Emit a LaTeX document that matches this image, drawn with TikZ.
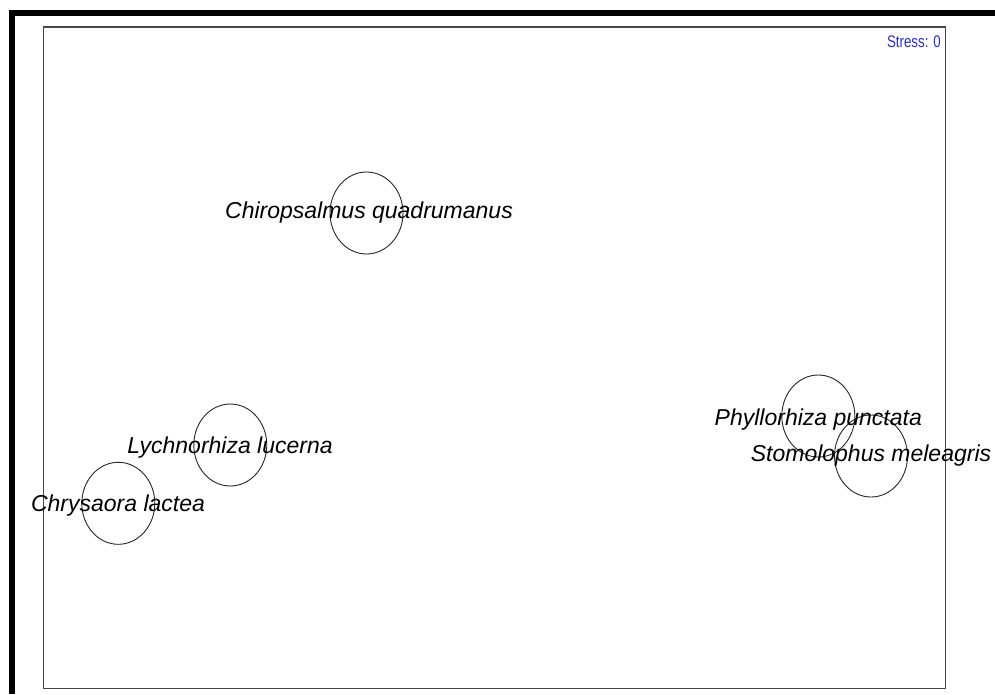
\documentclass[tikz,border=0pt]{standalone}
\usepackage{fontspec}
\setmainfont{Liberation Sans}
\usetikzlibrary{shapes.geometric}
\definecolor{stressblue}{RGB}{40,40,240}
\definecolor{framegray}{RGB}{70,70,70}
\tikzset{
  spot/.style={draw=black!85, line width=0.9pt, ellipse, minimum width=73pt, minimum height=82pt, inner sep=0pt},
  lbl/.style={anchor=base, inner sep=0pt, font=\fontsize{23}{23}\selectfont\itshape},
}
\begin{document}
\begin{tikzpicture}[x=1pt,y=-1pt]
\useasboundingbox (0,0) rectangle (995,694);
% thick outer frame
\fill[black] (9,10) rectangle (995,16);
\fill[black] (9,10) rectangle (15,694);
% inner plot rectangle
\draw[framegray, line width=1.5pt] (43.5,26.8) rectangle (945.5,688.5);
% stress label
\node[anchor=base east, inner sep=0pt, text=stressblue, font=\fontsize{14}{14}\selectfont] (stress) at (941,47.3) {\scalebox{0.95}[1.2]{Stress: 0}};
% circles
\node[spot] (c1) at (366.5,213) {};
\node[spot] (c2) at (230.3,445) {};
\node[spot] (c3) at (118.3,503.3) {};
\node[spot] (c4) at (818.3,416) {};
\node[spot] (c5) at (871,456) {};
% labels
\node[lbl] (l1) at (369,218.3) {Chiropsalmus quadrumanus};
\node[lbl] (l2) at (230,453.3) {Lychnorhiza lucerna};
\node[lbl] (l3) at (118,511.7) {Chrysaora lactea};
\node[lbl] (l4) at (818.3,425) {Phyllorhiza punctata};
\node[lbl] (l5) at (871,461.7) {Stomolophus meleagris};
\end{tikzpicture}
\end{document}
